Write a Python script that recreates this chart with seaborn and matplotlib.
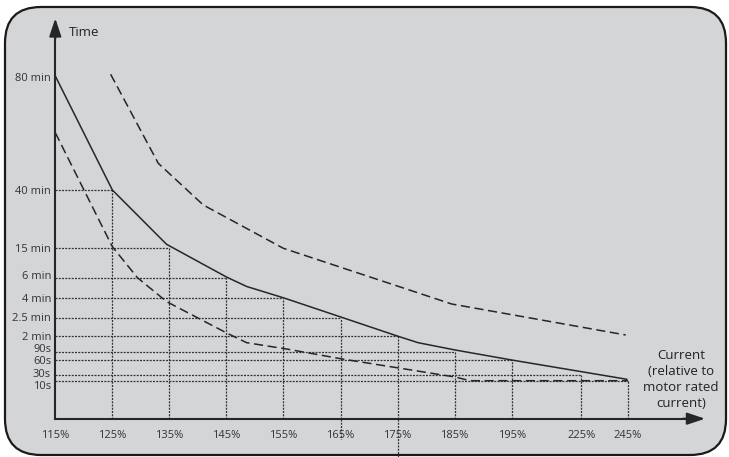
import pandas as pd
import seaborn as sns
import matplotlib.pyplot as plt
from matplotlib.patches import FancyBboxPatch
from matplotlib.transforms import IdentityTransform

# tick labels and where they sit (x in tick steps, y in chart levels)
current_labels = ['115%', '125%', '135%', '145%', '155%', '165%', '175%', '185%', '195%', '225%', '245%']
current_pos = [0, 1, 2, 3, 4, 5, 6, 7, 8, 9.22, 10.03]
time_labels = ['80 min', '40 min', '15 min', '6 min', '4 min', '2.5 min', '2 min', '90s', '60s', '30s', '10s']
time_levels = [34.27, 22.87, 17.07, 14.1, 12.04, 10.04, 8.24, 6.67, 5.84, 4.34, 3.80]
time_label_pos = [34.2, 22.87, 17.07, 14.37, 12.1, 10.14, 8.27, 7.07, 5.87, 4.6, 3.4]

# trip curves
nominal_x = [0, 1.0, 1.95, 3.0, 3.355, 4.01, 5.03, 6.02, 6.36, 7.01, 8.0, 10.02]
nominal_y = [34.27, 22.87, 17.44, 14.17, 13.22, 12.07, 10.12, 8.22, 7.6, 6.87, 5.87, 3.94]
upper_x = [0.97, 1.805, 2.594, 3.997, 6.948, 10.0]
upper_y = [34.44, 25.54, 21.37, 17.04, 11.47, 8.37]
lower_x = [0, 1.0, 1.44, 1.953, 3.015, 3.355, 4.084, 5.03, 6.02, 7.006, 7.27, 10.04]
lower_y = [28.6, 17.2, 14.1, 11.7, 8.54, 7.6, 6.94, 5.97, 5.07, 4.17, 3.8, 3.8]

ink = '#262626'
bg = '#d4d5d7'

sns.set_style('white')
plt.rcParams['font.family'] = ['Open Sans', 'DejaVu Sans']

fig = plt.figure(figsize=(7.29, 4.57), dpi=100)
card = FancyBboxPatch((5, 2), 721, 448, boxstyle='round,pad=0,rounding_size=36',
                      transform=IdentityTransform(), facecolor=bg, edgecolor='#1a1a1a',
                      lw=1.6, zorder=-5)
fig.add_artist(card)

ax = fig.add_axes([0, 0, 1, 1])
ax.set_facecolor('none')
ax.set_xlim(-0.9693, 11.809)
ax.set_ylim(-3.83, 41.87)

# dotted guide lines
dot = dict(color='#333333', lw=0.9, ls=(0, (1.6, 1.0)), zorder=1)
for j in range(1, len(current_pos)):
    ax.plot([0, current_pos[j]], [time_levels[j]] * 2, **dot)
    ax.plot([current_pos[j]] * 2, [0, time_levels[j]], **dot)
ax.plot([current_pos[5]] * 2, [0, -2.0], **dot)
ax.plot([current_pos[6]] * 2, [0, -3.9], **dot)

curves = pd.concat([
    pd.DataFrame({'x': nominal_x, 'y': nominal_y, 'curve': 'nominal'}),
    pd.DataFrame({'x': upper_x, 'y': upper_y, 'curve': 'upper'}),
    pd.DataFrame({'x': lower_x, 'y': lower_y, 'curve': 'lower'}),
])
sns.lineplot(data=curves[curves.curve == 'nominal'], x='x', y='y', sort=False,
             estimator=None, color=ink, lw=1.1, ax=ax, zorder=3)
for name in ['upper', 'lower']:
    sns.lineplot(data=curves[curves.curve == name], x='x', y='y', sort=False,
                 estimator=None, color=ink, lw=1.1, ls=(0, (6, 3)), ax=ax, zorder=3)

# axes through the origin with arrow heads
for side in ['top', 'right']:
    ax.spines[side].set_visible(False)
ax.spines['left'].set_position(('data', 0))
ax.spines['bottom'].set_position(('data', 0))
ax.spines['left'].set_bounds(0, 38.5)
ax.spines['bottom'].set_bounds(0, 11.1)
for side in ['left', 'bottom']:
    ax.spines[side].set_color(ink)
    ax.spines[side].set_linewidth(1.5)
arrow = dict(arrowstyle='-|>,head_length=0.6,head_width=0.2', mutation_scale=18,
             color=ink, lw=1.5, shrinkA=0, shrinkB=0)
ax.annotate('', xy=(0, 40.04), xytext=(0, 38.0), arrowprops=arrow)
ax.annotate('', xy=(11.39, 0), xytext=(11.0, 0), arrowprops=arrow)

ax.set_xticks(current_pos, current_labels)
ax.set_yticks(time_label_pos, time_labels)
ax.tick_params(axis='x', length=0, pad=8, labelsize=8, labelcolor='#333333')
ax.tick_params(axis='y', length=0, pad=3, labelsize=8, labelcolor='#333333')
ax.set_xlabel('')
ax.set_ylabel('')
ax.grid(False)

ax.text(0.24, 38.57, 'Time', ha='left', va='center', fontsize=9.5, color='#222222')
ax.text(10.97, 3.92, 'Current\n(relative to\nmotor rated\ncurrent)', ha='center',
        va='center', fontsize=9.5, linespacing=1.3, color='#222222')

fig.savefig('out.png', dpi=100)
